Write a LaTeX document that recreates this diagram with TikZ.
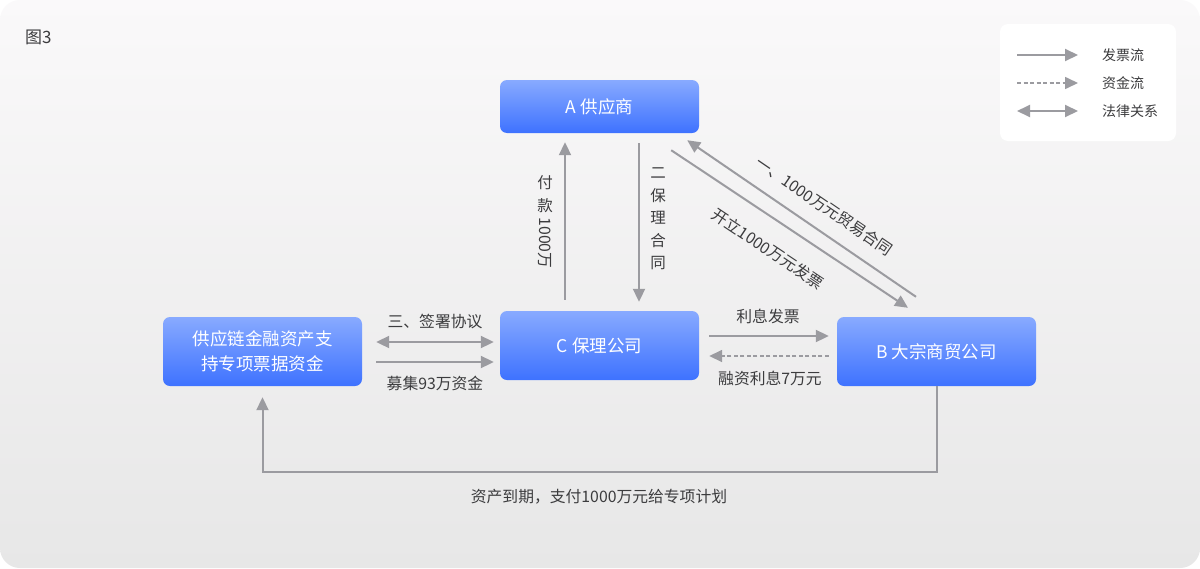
\documentclass[tikz,border=0pt]{standalone}
\usepackage{fontspec}
\setmainfont{Noto Sans CJK SC}
\usetikzlibrary{arrows.meta}
\definecolor{ln}{RGB}{155,155,160}
\definecolor{txt}{RGB}{60,60,62}
\definecolor{btop}{RGB}{136,170,255}
\definecolor{bbot}{RGB}{62,114,255}
\definecolor{bgtop}{RGB}{250,249,250}
\definecolor{bgbot}{RGB}{231,231,231}
\begin{document}
\begin{tikzpicture}[x=1pt,y=-1pt,
  box/.style={rounded corners=7pt, top color=btop, bottom color=bbot, draw=none,
    minimum width=199pt, text=white, font=\fontsize{17.5}{25}\selectfont, align=center, inner sep=0pt},
  lbl/.style={text=txt, font=\fontsize{15.8}{18}\selectfont, inner sep=0pt},
  vlbl/.style={text=txt, font=\fontsize{15.5}{22.5}\selectfont, inner sep=0pt, align=center},
  arr/.style={draw=ln, line width=2pt, -{Triangle[length=13pt,width=12pt]}},
  darr/.style={draw=ln, line width=2pt, {Triangle[length=13pt,width=12pt]}-{Triangle[length=13pt,width=12pt]}},
  dasharr/.style={draw=ln, line width=1.6pt, dash pattern=on 4pt off 2.5pt, -{Triangle[length=13pt,width=12pt]}}
]
\useasboundingbox (0,0) rectangle (1200,568);
\fill[white] (0,0) rectangle (1200,568);
\shade[top color=bgtop, bottom color=bgbot, rounded corners=20pt] (0,0) rectangle (1200,568);

\node[text=txt, font=\fontsize{17}{20}\selectfont, anchor=west, inner sep=0pt] (fig) at (25,37) {图3};

% legend
\node[fill=white, rounded corners=8pt, minimum width=176pt, minimum height=117pt, inner sep=0pt] (leg) at (1088,82.5) {};
\coordinate (l1a) at (1017,55); \coordinate (l1b) at (1078,55);
\coordinate (l2a) at (1017,83); \coordinate (l2b) at (1078,83);
\coordinate (l3a) at (1017,111); \coordinate (l3b) at (1078,111);
\draw[arr] (l1a) -- (l1b);
\draw[dasharr] (l2a) -- (l2b);
\draw[darr] (l3a) -- (l3b);
\node[lbl, anchor=west, font=\fontsize{14}{16}\selectfont] (t1) at (1102,55) {发票流};
\node[lbl, anchor=west, font=\fontsize{14}{16}\selectfont] (t2) at (1102,83) {资金流};
\node[lbl, anchor=west, font=\fontsize{14}{16}\selectfont] (t3) at (1102,111) {法律关系};

% boxes
\node[box, minimum height=53pt] (A) at (599.5,106.5) {A 供应商};
\node[box, minimum height=69pt] (C) at (599.5,345.5) {C 保理公司};
\node[box, minimum height=69pt] (B) at (936.5,351.5) {B 大宗商贸公司};
\node[box, minimum height=69pt] (L) at (262.5,351.5) {供应链金融资产支\\持专项票据资金};

% vertical arrows
\draw[arr] ([shift={(-34.5,-11)}]C.north) -- ([shift={(-34.5,9)}]A.south);
\draw[arr] ([shift={(39.5,10)}]A.south) -- ([shift={(39.5,-9)}]C.north);
\node[vlbl] (pay1) at (545,194) {付\\款};
\node[lbl, rotate=-90] (pay2) at (545,243) {1000万};
\node[vlbl] (bl) at (658,219) {二\\保\\理\\合\\同};

% diagonal arrows
\draw[arr] ([shift={(-20.5,-20)}]B.north) -- ([shift={(-12,7)}]A.south east);
\draw[arr] ([shift={(-28,17)}]A.south east) -- ([shift={(-28.5,-9)}]B.north);
\node[lbl, rotate=-34.4] (d1) at (824,206) {一、1000万元贸易合同};
\node[lbl, rotate=-33.7] (d2) at (768,249) {开立1000万元发票};

% left arrows
\draw[darr] ([shift={(14,-9.5)}]L.east) -- ([shift={(-6,-3.5)}]C.west);
\draw[arr] ([shift={(14,10.5)}]L.east) -- ([shift={(-6,16.5)}]C.west);
\node[lbl] (s1) at (435,322) {三、签署协议};
\node[lbl] (s2) at (435,383) {募集93万资金};

% right arrows
\draw[arr] ([shift={(10,-9.5)}]C.east) -- ([shift={(-8,-15.5)}]B.west);
\draw[dasharr] ([shift={(-8,4.5)}]B.west) -- ([shift={(10,10.5)}]C.east);
\node[lbl] (r1) at (768,316) {利息发票};
\node[lbl] (r2) at (770,378) {融资利息7万元};

% bottom
\draw[arr] (B.south) -- ++(0,86) -| ([yshift=-11pt]L.south);
\node[lbl] (bt) at (599,497) {资产到期，支付1000万元给专项计划};
\end{tikzpicture}
\end{document}
